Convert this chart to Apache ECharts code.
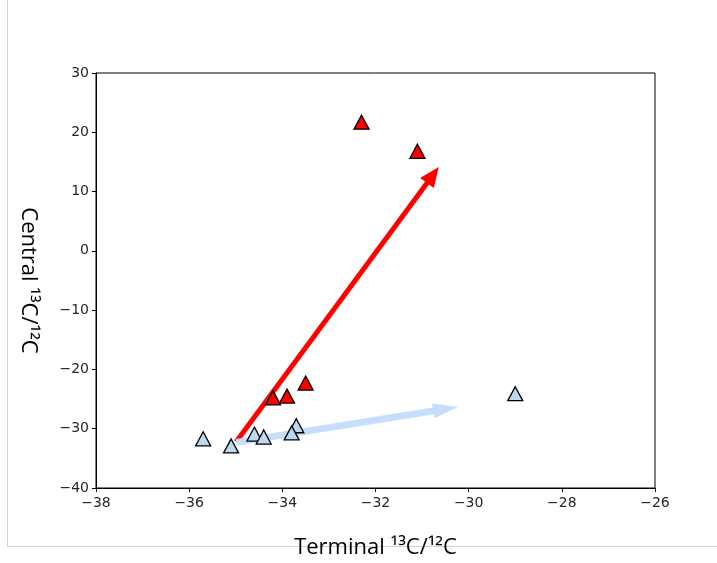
<!DOCTYPE html>
<html>
<head>
<meta charset="utf-8">
<script src="https://cdn.jsdelivr.net/npm/echarts@6/dist/echarts.min.js"></script>
<style>html,body{margin:0;padding:0;background:#fff}#c{width:717px;height:563px}</style>
</head>
<body>
<div id="c"></div>
<script>
// Data
var redX = [-32.3, -31.1, -33.5, -33.9, -34.2];
var redY = [21.7, 16.8, -22.3, -24.5, -24.8];
var blueX = [-35.7, -35.1, -34.6, -34.4, -33.7, -33.8, -29.0];
var blueY = [-31.7, -32.9, -30.9, -31.4, -29.5, -30.7, -24.1];
// arrows: start x, start y, end x, end y
var redArrow = [-34.99, -32.2, -30.64, 14.15];
var blueArrow = [-34.99, -32.3, -30.23, -26.33];
var xTicks = [-38, -36, -34, -32, -30, -28, -26];
var yTicks = [-40, -30, -20, -10, 0, 10, 20, 30];
var xTitle = 'Terminal \u00b9\u00b3C/\u00b9\u00b2C';
var yTitle = 'Central \u00b9\u00b3C/\u00b9\u00b2C';

function pairs(xs, ys) { return xs.map(function (x, i) { return [x, ys[i]]; }); }
function fmt(v) { return String(v).replace('-', '\u2212'); }

var chart = echarts.init(document.getElementById('c'));

function arrowRender(color, shaftW, headLen, headW) {
  return function (params, api) {
    var p1 = api.coord([api.value(0), api.value(1)]);
    var p2 = api.coord([api.value(2), api.value(3)]);
    var dx = p2[0] - p1[0], dy = p2[1] - p1[1];
    var L = Math.sqrt(dx * dx + dy * dy);
    var ux = dx / L, uy = dy / L;
    var nx = -uy, ny = ux;
    var bx = p2[0] - ux * headLen, by = p2[1] - uy * headLen;
    return {
      type: 'group',
      children: [
        { type: 'line', shape: { x1: p1[0], y1: p1[1], x2: bx + ux * 2, y2: by + uy * 2 },
          style: { stroke: color, lineWidth: shaftW } },
        { type: 'polygon', shape: { points: [
            [p2[0], p2[1]],
            [bx + nx * headW / 2, by + ny * headW / 2],
            [bx - nx * headW / 2, by - ny * headW / 2]
          ] }, style: { fill: color } }
      ]
    };
  };
}

var tickStyle = { color: '#262626', fontFamily: 'DejaVu Sans', fontSize: 14 };
var titleStyle = { fontFamily: 'Open Sans', fontSize: 22, color: '#000' };

chart.setOption({
  animation: false,
  backgroundColor: '#fff',
  grid: { left: 96, right: 62, top: 73, bottom: 75, outerBoundsMode: 'none', containLabel: false,
          show: true, borderColor: '#000', borderWidth: 1, backgroundColor: 'transparent' },
  xAxis: {
    type: 'value', min: -38, max: -26, interval: 2,
    name: xTitle, nameLocation: 'middle', nameGap: 49,
    nameTextStyle: titleStyle,
    axisLine: { show: true, onZero: false, lineStyle: { color: '#000', width: 1 } },
    axisTick: { show: true, length: 4, lineStyle: { color: '#000' } },
    axisLabel: Object.assign({ margin: 8, formatter: fmt }, tickStyle),
    splitLine: { show: false }
  },
  yAxis: {
    type: 'value', min: -40, max: 30, interval: 10,
    name: yTitle, nameLocation: 'middle', nameGap: 57, nameRotate: -90,
    nameTextStyle: titleStyle,
    axisLine: { show: true, onZero: false, lineStyle: { color: '#000', width: 1 } },
    axisTick: { show: true, length: 4, lineStyle: { color: '#000' } },
    axisLabel: Object.assign({ margin: 7, formatter: fmt }, tickStyle),
    splitLine: { show: false }
  },
  graphic: [
    { type: 'line', shape: { x1: 7.5, y1: 0, x2: 7.5, y2: 546 }, style: { stroke: '#d4d4d4', lineWidth: 1 } },
    { type: 'line', shape: { x1: 7, y1: 546.5, x2: 717, y2: 546.5 }, style: { stroke: '#d4d4d4', lineWidth: 1 }, z: -1 }
  ],
  series: [
    { type: 'custom', data: [redArrow], renderItem: arrowRender('#ff0000', 5, 20, 17), z: 2, silent: true },
    { type: 'custom', data: [blueArrow], renderItem: arrowRender('#c4defc', 7, 25, 15), z: 2, silent: true },
    { type: 'scatter', data: pairs(redX, redY), symbol: 'triangle', symbolSize: [15, 14],
      itemStyle: { color: '#ff0000', borderColor: '#000', borderWidth: 1.3, opacity: 1 }, z: 5 },
    { type: 'scatter', data: pairs(blueX, blueY), symbol: 'triangle', symbolSize: [15, 14],
      itemStyle: { color: '#bdd7ee', borderColor: '#000', borderWidth: 1.3, opacity: 1 }, z: 5 }
  ]
});
</script>
</body>
</html>
